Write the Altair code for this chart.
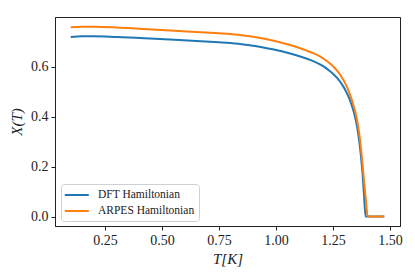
import altair as alt
import pandas as pd

# DFT Hamiltonian curve
t_dft = [0.10, 0.15, 0.20, 0.30, 0.40, 0.557, 0.65, 0.75, 0.80, 0.85, 0.90, 0.95, 1.00, 1.05,
         1.10, 1.15, 1.193, 1.215, 1.233, 1.251, 1.270, 1.288, 1.305, 1.320, 1.333, 1.343, 1.352,
         1.360, 1.366, 1.372, 1.379, 1.386, 1.393, 1.475]
x_dft = [0.719, 0.722, 0.722, 0.719, 0.715, 0.708, 0.703, 0.698, 0.695, 0.690, 0.684, 0.676, 0.667, 0.656,
         0.643, 0.627, 0.609, 0.597, 0.585, 0.571, 0.553, 0.531, 0.505, 0.476, 0.444, 0.414, 0.378,
         0.336, 0.296, 0.248, 0.180, 0.090, 0.0, 0.0]

# ARPES Hamiltonian curve
t_arpes = [0.10, 0.15, 0.20, 0.30, 0.40, 0.557, 0.65, 0.75, 0.80, 0.85, 0.90, 0.95, 1.00, 1.05,
           1.10, 1.15, 1.193, 1.215, 1.233, 1.251, 1.270, 1.288, 1.305, 1.320, 1.333, 1.344,
           1.353, 1.361, 1.368, 1.374, 1.380, 1.387, 1.395, 1.402, 1.475]
x_arpes = [0.758, 0.760, 0.760, 0.757, 0.752, 0.744, 0.739, 0.734, 0.731, 0.726, 0.720, 0.712, 0.702, 0.690,
           0.676, 0.659, 0.641, 0.628, 0.616, 0.601, 0.582, 0.559, 0.531, 0.500, 0.466, 0.432,
           0.398, 0.358, 0.312, 0.262, 0.205, 0.136, 0.060, 0.0, 0.0]

series = ["DFT Hamiltonian", "ARPES Hamiltonian"]
colors = ["#1f77b4", "#ff7f0e"]

x_ticks = [0.25, 0.50, 0.75, 1.00, 1.25, 1.50]
y_ticks = [0.0, 0.2, 0.4, 0.6, 0.8]

df = pd.concat([
    pd.DataFrame({"T": t_dft, "X": x_dft, "s": series[0], "o": range(len(t_dft))}),
    pd.DataFrame({"T": t_arpes, "X": x_arpes, "s": series[1], "o": range(len(t_arpes))}),
])

FONT = "Liberation Serif"
INK = "#222"

chart = alt.Chart(df).mark_line(strokeWidth=2, interpolate="monotone").encode(
    x=alt.X("T:Q", scale=alt.Scale(domain=[0.031, 1.544], nice=False, zero=False),
            axis=alt.Axis(values=x_ticks, format=".2f", title="T[K]", titleFontStyle="italic",
                          labelFont=FONT, titleFont=FONT, labelFontSize=14, labelColor=INK,
                          titleFontSize=15, titleFontWeight="normal", titlePadding=4, titleColor=INK,
                          grid=False, domainColor=INK, tickColor=INK, tickSize=4, labelPadding=3)),
    y=alt.Y("X:Q", scale=alt.Scale(domain=[-0.038, 0.799], nice=False, zero=False),
            axis=alt.Axis(values=y_ticks, format=".1f", title="X(T)", titleFontStyle="italic",
                          labelFont=FONT, titleFont=FONT, labelFontSize=14, labelColor=INK,
                          titleFontSize=15, titleFontWeight="normal", titlePadding=6, titleColor=INK,
                          grid=False, domainColor=INK, tickColor=INK, tickSize=4, labelPadding=3)),
    color=alt.Color("s:N", scale=alt.Scale(domain=series, range=colors), sort=series,
                    legend=alt.Legend(title=None, orient="none", legendX=6, legendY=167,
                                      symbolType="M-1.2,0L2.8,0", symbolSize=144, symbolStrokeWidth=2,
                                      labelFontSize=11.5, labelFont=FONT, labelColor=INK,
                                      strokeColor="#d0d0d0",
                                      fillColor="white", padding=4, cornerRadius=3,
                                      rowPadding=3, labelOffset=19)),
    order="o:Q",
).properties(
    width=345, height=209, autosize="none",
    padding={"left": 47, "top": 9, "right": 7, "bottom": 43},
).configure_view(stroke=INK, strokeWidth=1)

chart.save("out.html", embed_options={"renderer": "svg", "actions": False})
